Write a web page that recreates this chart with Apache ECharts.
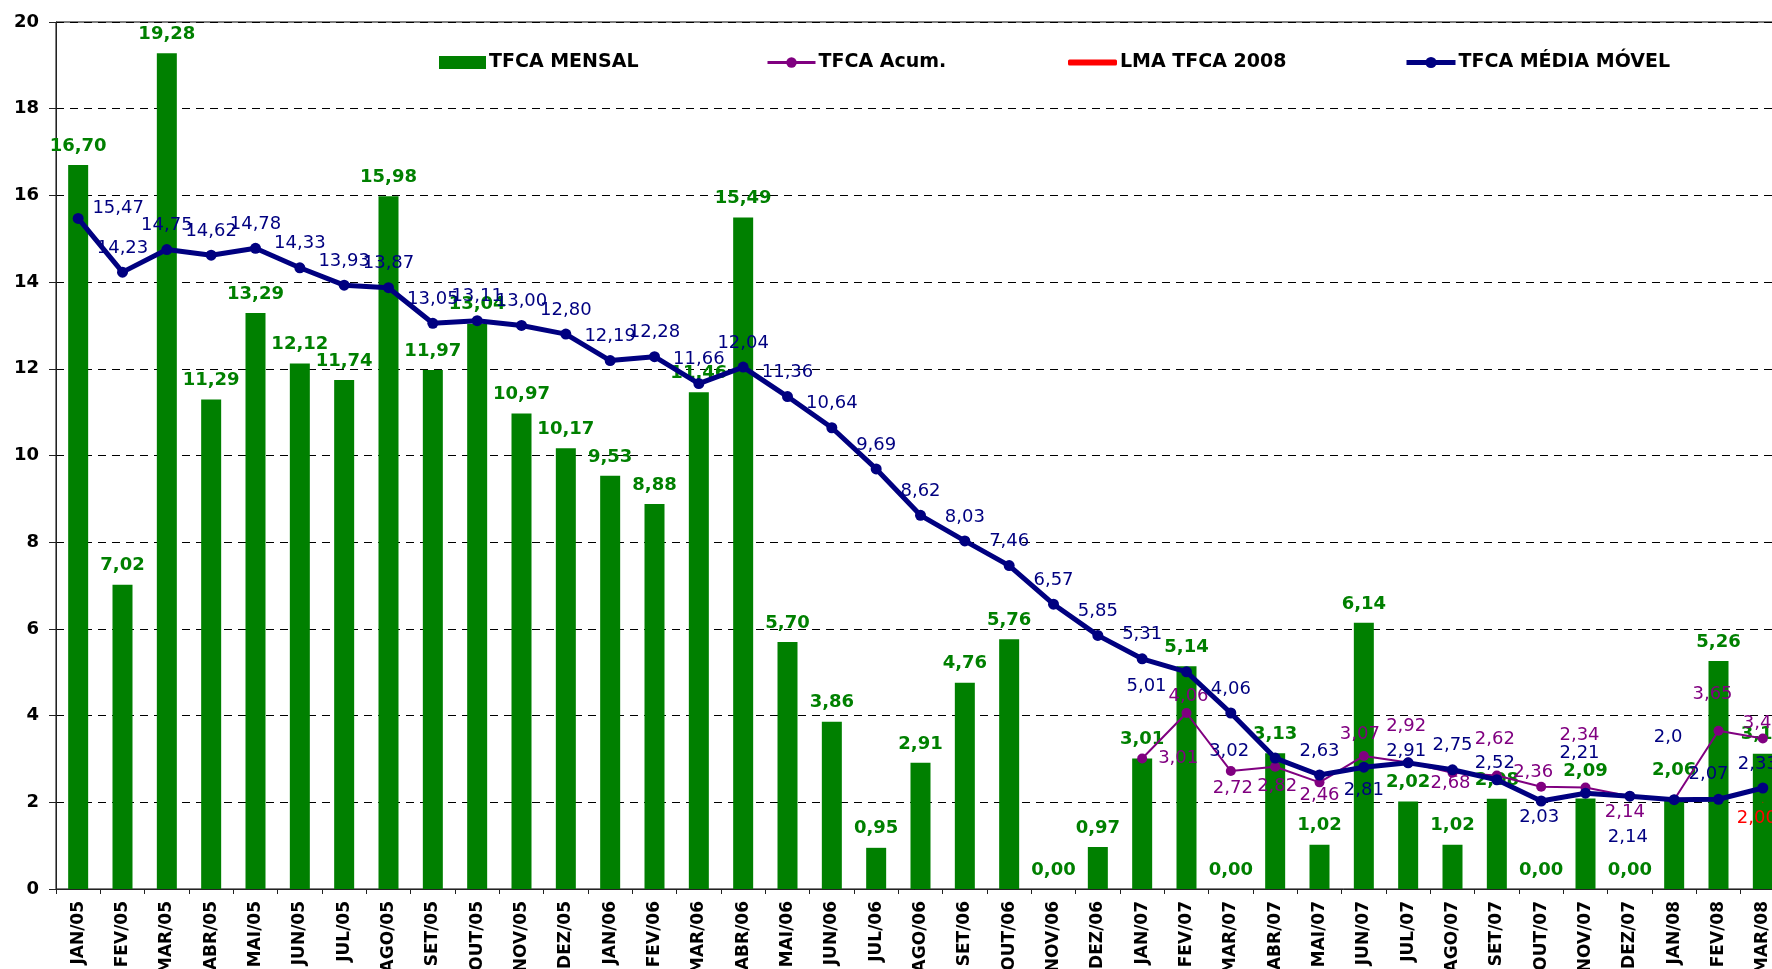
<!DOCTYPE html>
<html>
<head>
<meta charset="utf-8">
<script src="https://cdn.jsdelivr.net/npm/echarts@6/dist/echarts.min.js"></script>
<style>
html,body{margin:0;padding:0;background:#fff;}
#chart{width:1772px;height:969px;}
</style>
</head>
<body>
<div id="chart"></div>
<script>
const categories = [
  'JAN/05','FEV/05','MAR/05','ABR/05','MAI/05','JUN/05','JUL/05','AGO/05','SET/05','OUT/05','NOV/05','DEZ/05',
  'JAN/06','FEV/06','MAR/06','ABR/06','MAI/06','JUN/06','JUL/06','AGO/06','SET/06','OUT/06','NOV/06','DEZ/06',
  'JAN/07','FEV/07','MAR/07','ABR/07','MAI/07','JUN/07','JUL/07','AGO/07','SET/07','OUT/07','NOV/07','DEZ/07',
  'JAN/08','FEV/08','MAR/08'
];
const tfcaMensal = [
  16.70, 7.02, 19.28, 11.29, 13.29, 12.12, 11.74, 15.98, 11.97, 13.04, 10.97, 10.17,
  9.53, 8.88, 11.46, 15.49, 5.70, 3.86, 0.95, 2.91, 4.76, 5.76, 0.00, 0.97,
  3.01, 5.14, 0.00, 3.13, 1.02, 6.14, 2.02, 1.02, 2.08, 0.00, 2.09, 0.00,
  2.06, 5.26, 3.12
];
const tfcaAcum = [
  null, null, null, null, null, null, null, null, null, null, null, null,
  null, null, null, null, null, null, null, null, null, null, null, null,
  3.01, 4.06, 2.72, 2.82, 2.46, 3.07, 2.92, 2.68, 2.62, 2.36, 2.34, 2.14,
  2.06, 3.65, 3.47
];
const lmaTfca2008 = [
  null, null, null, null, null, null, null, null, null, null, null, null,
  null, null, null, null, null, null, null, null, null, null, null, null,
  null, null, null, null, null, null, null, null, null, null, null, null,
  null, null, 2.00
];
const tfcaMediaMovel = [
  15.47, 14.23, 14.75, 14.62, 14.78, 14.33, 13.93, 13.87, 13.05, 13.11, 13.00, 12.80,
  12.19, 12.28, 11.66, 12.04, 11.36, 10.64, 9.69, 8.62, 8.03, 7.46, 6.57, 5.85,
  5.31, 5.01, 4.06, 3.02, 2.63, 2.81, 2.91, 2.75, 2.52, 2.03, 2.21, 2.14,
  2.06, 2.07, 2.33
];
const yTicks = { min: 0, max: 20, interval: 2 };
const seriesNames = ['TFCA MENSAL', 'TFCA Acum.', 'LMA TFCA 2008', 'TFCA MÉDIA MÓVEL'];
const mediaMovelTextOverride = { 36: '2,0' };

// ---- styling / layout ----
const GREEN = '#008000', PURPLE = '#800080', RED = '#ff0000', NAVY = '#000080';
const LABEL_FONT = 'DejaVu Sans';
const fmt = v => Number(v).toFixed(2).replace('.', ',');

const navyOffsets = {0:[40,-10],25:[-40,15],27:[-46,-7],29:[0,23],30:[-2,-12],32:[-2,-16],
  33:[-2,16],34:[-6,-40],35:[-2,41],36:[-6,-62],37:[-10,-25],38:[-5,-24]};
const purpleOffsets = {24:[36,0],25:[2,-17],26:[2,17],27:[2,20],28:[0,13],29:[-4,-22],30:[-2,-36],
  31:[-2,11],32:[-2,-36],33:[-8,-14],34:[-6,-52],35:[-5,16],37:[-6,-36],38:[0,-15]};
const barExtra = {34:[0,-8],36:[0,-10]};

const barData = tfcaMensal.map((v, i) => {
  const o = barExtra[i];
  return o ? { value: v, label: { offset: o } } : v;
});
const navyData = tfcaMediaMovel.map((v, i) => ({
  value: v,
  label: {
    offset: navyOffsets[i] || [0, -24],
    formatter: mediaMovelTextOverride[i] !== undefined ? mediaMovelTextOverride[i] : (p => fmt(p.value))
  }
}));
const purpleData = tfcaAcum.map((v, i) => {
  if (v === null) return null;
  const item = { value: v, label: { offset: purpleOffsets[i] || [0, -24] } };
  if (!purpleOffsets[i]) item.label.show = false;
  return item;
});
const redData = lmaTfca2008.map(v => v === null ? null : { value: v, label: { offset: [-6, 16] } });

const legendBase = {
  orient: 'horizontal', top: 48, selectedMode: false, itemGap: 0,
  textStyle: { fontFamily: LABEL_FONT, fontWeight: 'bold', fontSize: 19, color: '#000', padding: [0, 0, 0, -2] }
};

const option = {
  animation: false,
  backgroundColor: '#fff',
  grid: {
    left: 56, right: -13, top: 22, bottom: 80, containLabel: false, outerBoundsMode: 'none',
    show: true, borderColor: '#000', borderWidth: 1, backgroundColor: 'transparent'
  },
  legend: [
    Object.assign({}, legendBase, { left: 434, data: [{ name: seriesNames[0], icon: 'rect' }], itemWidth: 47, itemHeight: 13 }),
    Object.assign({}, legendBase, { left: 761, data: [seriesNames[1]], itemWidth: 48, itemHeight: 13, lineStyle: { width: 3 } }),
    Object.assign({}, legendBase, { left: 1063, data: [{ name: seriesNames[2], icon: 'roundRect' }], itemWidth: 49, itemHeight: 6 }),
    Object.assign({}, legendBase, { left: 1399, data: [seriesNames[3]], itemWidth: 49, itemHeight: 14, lineStyle: { width: 5 } })
  ],
  xAxis: {
    type: 'category',
    data: categories,
    boundaryGap: true,
    axisLine: { show: true, lineStyle: { color: '#222', width: 1 } },
    axisTick: { show: true, length: 5, lineStyle: { color: '#222' } },
    axisLabel: {
      interval: 0, rotate: 90, margin: 12,
      fontFamily: LABEL_FONT, fontWeight: 'bold', fontSize: 17, color: '#000'
    },
    splitLine: { show: false }
  },
  yAxis: {
    type: 'value',
    min: yTicks.min, max: yTicks.max, interval: yTicks.interval,
    axisLine: { show: true, lineStyle: { color: '#222', width: 1 } },
    axisTick: { show: true, length: 7, lineStyle: { color: '#222' } },
    axisLabel: { margin: 17, fontFamily: LABEL_FONT, fontWeight: 'bold', fontSize: 18, color: '#000' },
    splitLine: { show: true, lineStyle: { color: '#000', type: [8, 6], width: 1 } }
  },
  series: [
    {
      name: seriesNames[0], type: 'bar', data: barData, barWidth: 20,
      itemStyle: { color: GREEN },
      label: {
        show: true, position: 'top', distance: 10,
        formatter: p => fmt(p.value),
        fontFamily: LABEL_FONT, fontWeight: 'bold', fontSize: 18, color: GREEN
      },
      z: 2
    },
    {
      name: seriesNames[1], type: 'line', data: purpleData, connectNulls: false,
      symbol: 'circle', symbolSize: 10, showAllSymbol: true,
      lineStyle: { color: PURPLE, width: 2 }, itemStyle: { color: PURPLE },
      label: {
        show: true, position: 'inside',
        formatter: p => fmt(p.value),
        fontFamily: LABEL_FONT, fontSize: 18, color: PURPLE
      },
      z: 3
    },
    {
      name: seriesNames[2], type: 'line', data: redData,
      symbol: 'circle', symbolSize: 1,
      lineStyle: { color: RED, width: 5 }, itemStyle: { color: RED },
      label: {
        show: true, position: 'inside',
        formatter: p => fmt(p.value),
        fontFamily: LABEL_FONT, fontSize: 18, color: RED
      },
      z: 3
    },
    {
      name: seriesNames[3], type: 'line', data: navyData,
      symbol: 'circle', symbolSize: 11, showAllSymbol: true,
      lineStyle: { color: NAVY, width: 5 }, itemStyle: { color: NAVY },
      label: {
        show: true, position: 'inside',
        fontFamily: LABEL_FONT, fontSize: 18, color: NAVY
      },
      z: 4
    }
  ]
};

const chart = echarts.init(document.getElementById('chart'), null, { renderer: 'canvas' });
chart.setOption(option);
</script>
</body>
</html>
